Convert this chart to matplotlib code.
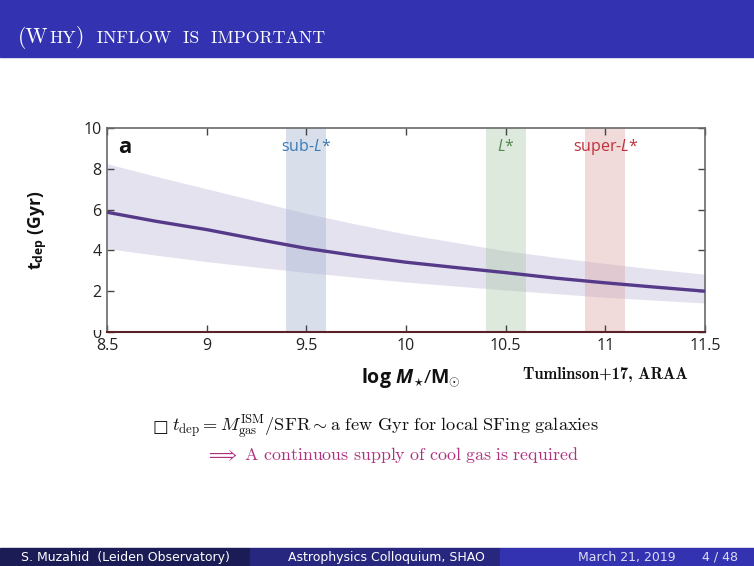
import matplotlib
matplotlib.use("Agg")
import matplotlib.pyplot as plt
from matplotlib.patches import Rectangle
from matplotlib.transforms import Bbox, TransformedBbox

# values
log_mass = [8.5, 8.75, 9.0, 9.25, 9.5, 9.75, 10.0, 10.25, 10.5, 10.75, 11.0, 11.25, 11.5]
t_dep = [5.87, 5.42, 5.02, 4.55, 4.10, 3.74, 3.42, 3.16, 2.91, 2.64, 2.41, 2.20, 2.00]
t_dep_hi = [8.25, 7.62, 7.02, 6.42, 5.81, 5.29, 4.80, 4.39, 3.98, 3.66, 3.36, 3.08, 2.83]
t_dep_lo = [4.09, 3.76, 3.45, 3.18, 2.92, 2.68, 2.45, 2.25, 2.06, 1.88, 1.70, 1.56, 1.42]

band_names = ["sub-$L$*", "$L$*", "super-$L$*"]
band_lo = [9.4, 10.4, 10.9]
band_hi = [9.6, 10.6, 11.1]
band_fill = ["#9fb0cf", "#a8c8a8", "#dca4a4"]
band_text = ["#3a7ab5", "#4f8a4f", "#c0303a"]

x_ticks = [8.5, 9.0, 9.5, 10.0, 10.5, 11.0, 11.5]
x_tick_labels = ["8.5", "9", "9.5", "10", "10.5", "11", "11.5"]
y_ticks = [0, 2, 4, 6, 8, 10]

plt.rcParams["mathtext.rm"] = "Open Sans"
plt.rcParams["mathtext.it"] = "Open Sans:italic"
plt.rcParams["mathtext.bf"] = "Open Sans:bold"
plt.rcParams["mathtext.bfit"] = "Open Sans:bold:italic"

W, H = 754, 566
fig = plt.figure(figsize=(W / 100, H / 100), dpi=100)
renderer = fig.canvas.get_renderer()

# title bar, small caps built from two sizes
fig.patches.append(Rectangle((0, 1 - 57 / H), 1, 57 / H, transform=fig.transFigure,
                             color="#3333b2", zorder=0))
title_parts = [("(W", 15.5), ("HY", 12.8), (")", 15.5), ("  INFLOW  IS  IMPORTANT", 12.8)]
x_pos = 18
for txt, fs in title_parts:
    t = fig.text(x_pos / W, 1 - 43 / H, txt, family="cmr10", fontsize=fs, color="white",
                 va="baseline")
    x_pos = t.get_window_extent(renderer).x1 + 0.5

# footer
foot_cols = ["#1b1b55", "#27277f", "#3333b2"]
foot_x = [0, 250, 500, 754]
for i in range(3):
    fig.patches.append(Rectangle((foot_x[i] / W, 0), (foot_x[i + 1] - foot_x[i]) / W, 18 / H,
                                 transform=fig.transFigure, color=foot_cols[i], zorder=0))
fy = 9 / H
fig.text(125 / W, fy, "S. Muzahid  (Leiden Observatory)", family="DejaVu Sans", fontsize=9,
         color="white", ha="center", va="center")
fig.text(386 / W, fy, "Astrophysics Colloquium, SHAO", family="DejaVu Sans", fontsize=9,
         color="white", ha="center", va="center")
fig.text(627 / W, fy, "March 21, 2019", family="DejaVu Sans", fontsize=9,
         color="#dcdcf4", ha="center", va="center")
fig.text(720 / W, fy, "4 / 48", family="DejaVu Sans", fontsize=9,
         color="#dcdcf4", ha="center", va="center")

# chart
ax = fig.add_axes([107 / W, 1 - 332 / H, 598 / W, 204 / H])
ax.fill_between(log_mass, t_dep_lo, t_dep_hi, color="#8070b0", alpha=0.2, lw=0, zorder=1)
for lo, hi, c in zip(band_lo, band_hi, band_fill):
    ax.axvspan(lo, hi, color=c, alpha=0.4, lw=0, zorder=1)
ax.plot(log_mass, t_dep, color="#563a8a", lw=2.4, zorder=3, solid_capstyle="butt")
for name, lo, hi, c in zip(band_names, band_lo, band_hi, band_text):
    ax.text((lo + hi) / 2, 9.05, name, color=c, fontsize=11.5, family="Open Sans",
            ha="center", va="center", math_fontfamily="custom")
ax.text(8.555, 9.05, "a", fontsize=16, fontweight="bold", family="Open Sans",
        va="center", ha="left", color="#111111")

ax.set_xlim(8.5, 11.5)
ax.set_ylim(0, 10)
ax.set_xticks(x_ticks)
ax.set_xticklabels(x_tick_labels)
ax.set_yticks(y_ticks)
ax.tick_params(direction="in", length=5, width=1, color="#444444", top=True, right=True,
               labelsize=11.5, labelcolor="#222222", pad=4)
for lab in ax.get_xticklabels() + ax.get_yticklabels():
    lab.set_family("Open Sans")
for side in ["left", "top", "right"]:
    ax.spines[side].set_color("#6a6a6a")
    ax.spines[side].set_linewidth(1.2)
ax.spines["bottom"].set_color("#5a2228")
ax.spines["bottom"].set_linewidth(1.5)

# zero label is cut off in the original
fig.canvas.draw()
zero_lab = ax.get_yticklabels()[0]
zero_lab.set_clip_on(True)
zero_lab.set_clip_box(TransformedBbox(Bbox([[0, 0], [1, 1 - 330 / H]]), fig.transFigure))

fig.text(38 / W, 1 - 230 / H, r"$\mathbf{t}_{\mathbf{dep}}\ \mathbf{(Gyr)}$", rotation=90,
         fontsize=12.5, ha="center", va="center", math_fontfamily="custom", color="#111111")
fig.text(411 / W, 1 - 378 / H, r"$\mathbf{log}\ \mathbfit{M}_{\star}/\mathbf{M}_{\odot}$",
         fontsize=14, ha="center", va="center", math_fontfamily="custom", color="#111111")
fig.text(605 / W, 1 - 374 / H, "Tumlinson+17, ARAA", family="cmb10", fontsize=11.8,
         ha="center", va="center", color="#111111")

# slide text
fig.text(152 / W, 1 - 427 / H, "\u25a1", family="DejaVu Sans", fontsize=12,
         ha="left", va="center", color="#111111")
fig.text(172 / W, 1 - 427 / H,
         r"$t_{\rm dep} = M_{\rm gas}^{\rm ISM}/{\rm SFR} \sim {\rm a\ few\ Gyr\ for\ local\ SFing\ galaxies}$",
         fontsize=13.2, math_fontfamily="cm", ha="left", va="center", color="#111111")
fig.text(205 / W, 1 - 455 / H,
         r"$\Longrightarrow\ {\rm A\ continuous\ supply\ of\ cool\ gas\ is\ required}$",
         fontsize=12.9, math_fontfamily="cm", ha="left", va="center", color="#b0307f")

fig.savefig("out.png", dpi=100)
